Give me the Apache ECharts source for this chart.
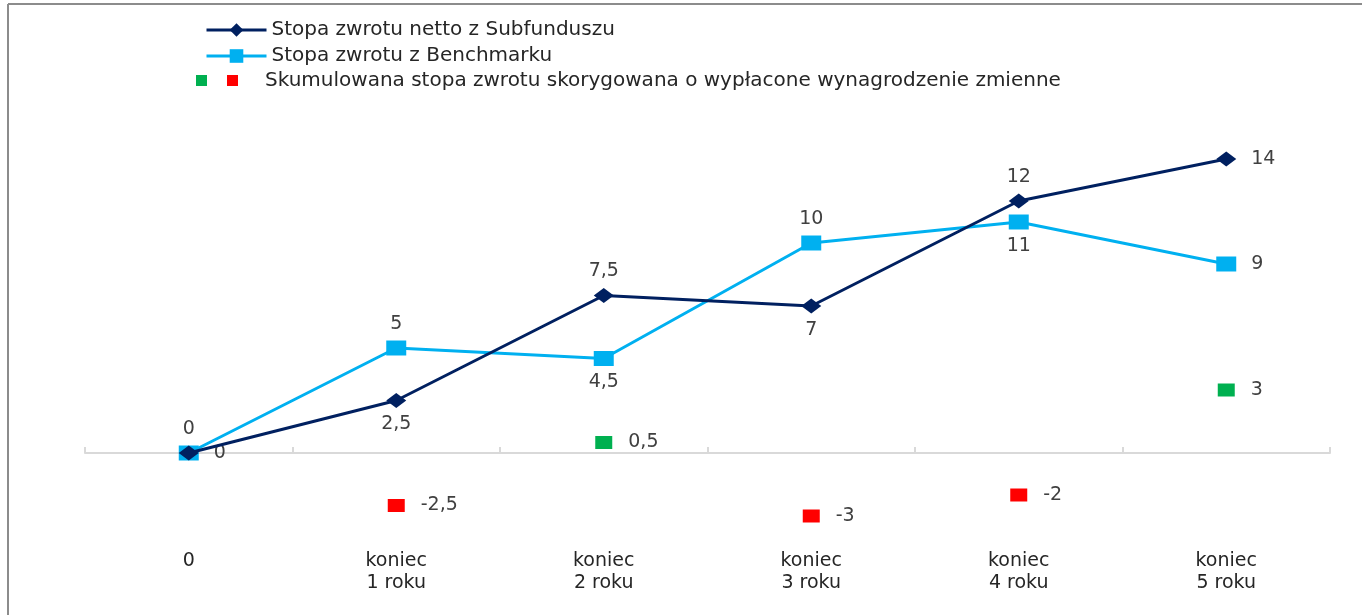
<!DOCTYPE html>
<html>
<head>
<meta charset="utf-8">
<script src="https://cdn.jsdelivr.net/npm/echarts@6/dist/echarts.min.js"></script>
<style>
html,body{margin:0;padding:0;background:#fff;}
#c{width:1362px;height:615px;}
</style>
</head>
<body>
<div id="c"></div>
<script>
const categories = ['0', 'koniec\n1 roku', 'koniec\n2 roku', 'koniec\n3 roku', 'koniec\n4 roku', 'koniec\n5 roku'];
const fundReturn = [0, 2.5, 7.5, 7, 12, 14];
const benchmarkReturn = [0, 5, 4.5, 10, 11, 9];
const adjustedReturn = [null, -2.5, 0.5, -3, -2, 3];
const fundLabelPos = ['top', 'bottom', 'top', 'bottom', 'top', 'right'];
const benchLabelPos = ['right', 'top', 'bottom', 'top', 'bottom', 'right'];
const seriesNames = ['Stopa zwrotu netto z Subfunduszu', 'Stopa zwrotu z Benchmarku'];
const adjustedName = 'Skumulowana stopa zwrotu skorygowana o wypłacone wynagrodzenie zmienne';

const FONT = 'DejaVu Sans';
const fmt = v => String(v).replace('.', ',');

function lineData(vals, pos) {
  return vals.map((v, i) => ({
    value: v,
    label: { position: pos[i], distance: pos[i] === 'right' ? 15 : 7 }
  }));
}

const chart = echarts.init(document.getElementById('c'));
chart.setOption({
  backgroundColor: '#ffffff',
  animation: false,
  grid: { left: 85, right: 32, top: 117, bottom: 78 },
  legend: {
    orient: 'vertical',
    left: 200, top: 15,
    itemWidth: 60, itemHeight: 17, itemGap: 6,
    lineStyle: { width: 3 },
    textStyle: { fontFamily: FONT, fontSize: 20, color: '#262626', lineHeight: 20 },
    data: seriesNames
  },
  graphic: [
    { type: 'line', shape: { x1: 8, y1: 4, x2: 1362, y2: 4 }, style: { stroke: '#8c8c8c', lineWidth: 2 } },
    { type: 'line', shape: { x1: 8, y1: 4, x2: 8, y2: 615 }, style: { stroke: '#8c8c8c', lineWidth: 2 } },
    { type: 'rect', shape: { x: 196, y: 75, width: 11, height: 11 }, style: { fill: '#00b050' } },
    { type: 'rect', shape: { x: 227, y: 75, width: 11, height: 11 }, style: { fill: '#ff0000' } },
    { type: 'text', left: 265, top: 71, style: { text: adjustedName, font: '20px "DejaVu Sans"', fill: '#262626' } }
  ],
  xAxis: [
    {
      type: 'category', data: categories, boundaryGap: true,
      axisLine: { onZero: true, lineStyle: { color: '#d9d9d9', width: 2 } },
      axisTick: { show: true, inside: true, length: 6, lineStyle: { color: '#d9d9d9', width: 2 } },
      axisLabel: { show: false }
    },
    {
      type: 'category', data: categories, boundaryGap: true, position: 'bottom',
      axisLine: { show: false, onZero: false }, axisTick: { show: false },
      axisLabel: { fontFamily: FONT, fontSize: 19, color: '#262626', margin: 13, lineHeight: 22, interval: 0 }
    }
  ],
  yAxis: {
    type: 'value', min: -4, max: 16, interval: 2, show: false,
    splitLine: { show: false }
  },
  series: [
    {
      name: seriesNames[0], type: 'line', xAxisIndex: 0,
      data: lineData(fundReturn, fundLabelPos),
      symbol: 'diamond', symbolSize: [20, 15],
      lineStyle: { color: '#002060', width: 3 },
      itemStyle: { color: '#002060' },
      label: { show: true, fontFamily: FONT, fontSize: 19, color: '#404040', formatter: p => fmt(p.value) },
      z: 3
    },
    {
      name: seriesNames[1], type: 'line', xAxisIndex: 0,
      data: lineData(benchmarkReturn, benchLabelPos),
      symbol: 'rect', symbolSize: [20, 15],
      lineStyle: { color: '#00b0f0', width: 3 },
      itemStyle: { color: '#00b0f0' },
      label: { show: true, fontFamily: FONT, fontSize: 19, color: '#404040', formatter: p => fmt(p.value) },
      z: 2
    },
    {
      name: adjustedName, type: 'scatter', xAxisIndex: 0,
      data: adjustedReturn,
      symbol: 'rect', symbolSize: [17, 13],
      itemStyle: { opacity: 1, color: p => (p.value >= 0 ? '#00b050' : '#ff0000') },
      label: { show: true, position: 'right', distance: 16, fontFamily: FONT, fontSize: 19, color: '#404040', formatter: p => fmt(p.value) }
    }
  ]
});
</script>
</body>
</html>
